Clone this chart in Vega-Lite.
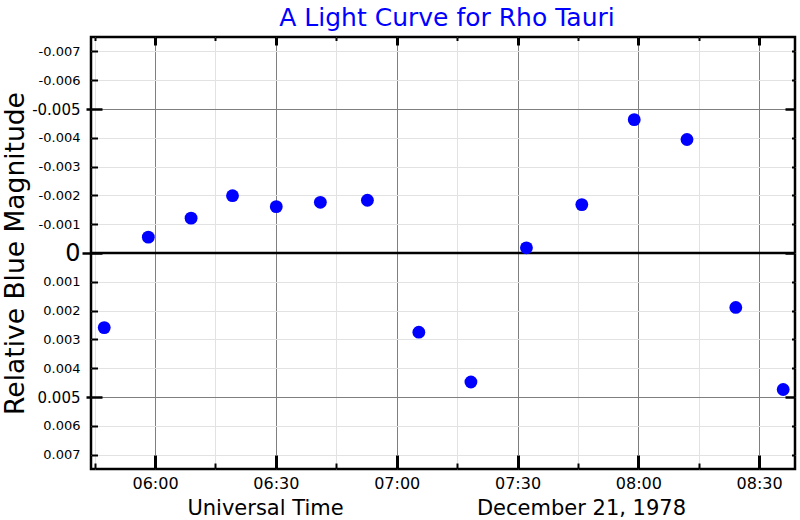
{
  "$schema": "https://vega.github.io/schema/vega-lite/v6.json",
  "width": 704,
  "height": 432,
  "autosize": {"type": "none"},
  "padding": {"left": 91, "top": 37, "right": 5, "bottom": 51},
  "background": "white",
  "config": {
    "font": "DejaVu Sans",
    "view": {"stroke": "black", "strokeWidth": 2.5},
    "axis": {"domain": false, "labelColor": "black", "titleColor": "black", "tickColor": "black", "titleFontWeight": "normal", "labelFont": "DejaVu Sans", "titleFont": "DejaVu Sans"}
  },
  "title": {"text": "A Light Curve for Rho Tauri", "color": "#0000ff", "fontSize": 25, "fontWeight": "normal", "font": "DejaVu Sans", "anchor": "middle", "dx": 4, "offset": -15, "baseline": "alphabetic"},
  "data": {"values": [
    {"time": "1978-12-21T05:47:23Z", "mag": 0.00259},
    {"time": "1978-12-21T05:58:20Z", "mag": -0.00055},
    {"time": "1978-12-21T06:08:57Z", "mag": -0.00121},
    {"time": "1978-12-21T06:19:14Z", "mag": -0.00199},
    {"time": "1978-12-21T06:30:06Z", "mag": -0.00161},
    {"time": "1978-12-21T06:41:03Z", "mag": -0.00176},
    {"time": "1978-12-21T06:52:44Z", "mag": -0.00183},
    {"time": "1978-12-21T07:05:30Z", "mag": 0.00275},
    {"time": "1978-12-21T07:18:26Z", "mag": 0.00448},
    {"time": "1978-12-21T07:32:13Z", "mag": -0.00018},
    {"time": "1978-12-21T07:45:58Z", "mag": -0.00168},
    {"time": "1978-12-21T07:58:59Z", "mag": -0.00463},
    {"time": "1978-12-21T08:12:05Z", "mag": -0.00394},
    {"time": "1978-12-21T08:24:12Z", "mag": 0.00189},
    {"time": "1978-12-21T08:35:58Z", "mag": 0.00474}
  ]},
  "layer": [
    {
      "data": {"values": [{}]},
      "mark": {"type": "rule", "color": "black", "strokeWidth": 2.5},
      "encoding": {"y": {"datum": 0, "type": "quantitative", "axis": null}}
    },
    {
      "mark": {"type": "circle", "color": "#0000ff", "opacity": 1, "size": 165},
      "encoding": {
        "x": {
          "field": "time", "type": "temporal",
          "scale": {"type": "utc", "domain": [
            {"year": 1978, "month": 12, "date": 21, "hours": 5, "minutes": 44, "seconds": 6, "utc": true},
            {"year": 1978, "month": 12, "date": 21, "hours": 8, "minutes": 38, "seconds": 54, "utc": true}
          ]},
          "axis": {
            "orient": "bottom",
            "values": [
              {"year": 1978, "month": 12, "date": 21, "hours": 5, "minutes": 45, "utc": true},
              {"year": 1978, "month": 12, "date": 21, "hours": 6, "minutes": 0, "utc": true},
              {"year": 1978, "month": 12, "date": 21, "hours": 6, "minutes": 15, "utc": true},
              {"year": 1978, "month": 12, "date": 21, "hours": 6, "minutes": 30, "utc": true},
              {"year": 1978, "month": 12, "date": 21, "hours": 6, "minutes": 45, "utc": true},
              {"year": 1978, "month": 12, "date": 21, "hours": 7, "minutes": 0, "utc": true},
              {"year": 1978, "month": 12, "date": 21, "hours": 7, "minutes": 15, "utc": true},
              {"year": 1978, "month": 12, "date": 21, "hours": 7, "minutes": 30, "utc": true},
              {"year": 1978, "month": 12, "date": 21, "hours": 7, "minutes": 45, "utc": true},
              {"year": 1978, "month": 12, "date": 21, "hours": 8, "minutes": 0, "utc": true},
              {"year": 1978, "month": 12, "date": 21, "hours": 8, "minutes": 15, "utc": true},
              {"year": 1978, "month": 12, "date": 21, "hours": 8, "minutes": 30, "utc": true}
            ],
            "ticks": false,
            "labelExpr": "utcminutes(datum.value) % 30 == 0 ? utcFormat(datum.value, '%H:%M') : ''",
            "labelFontSize": 16,
            "labelPadding": 6,
            "labelFlush": false,
            "labelOverlap": false,
            "grid": true,
            "gridColor": {"condition": {"test": "utcminutes(datum.value) % 30 == 0", "value": "#7f7f7f"}, "value": "#e2e2e2"},
            "gridWidth": 1,
            "title": "Universal Time",
            "titleFontSize": 21,
            "titleX": 174,
            "titleY": 45,
            "titleAlign": "center",
            "titleBaseline": "alphabetic"
          }
        },
        "y": {
          "field": "mag", "type": "quantitative",
          "scale": {"domain": [-0.0075, 0.0075], "reverse": true, "nice": false, "zero": false},
          "axis": {
            "orient": "left",
            "values": [-0.007, -0.006, -0.005, -0.004, -0.003, -0.002, -0.001, 0, 0.001, 0.002, 0.003, 0.004, 0.005, 0.006, 0.007],
            "ticks": false,
            "labelExpr": "datum.value == 0 ? '0' : '' + datum.value",
            "labelFontSize": {"condition": [
              {"test": "datum.value == 0", "value": 24},
              {"test": "abs(abs(datum.value) - 0.005) < 0.0001", "value": 15}
            ], "value": 13},
            "labelPadding": 11,
            "labelFlush": false,
            "labelOverlap": false,
            "grid": true,
            "gridColor": {"condition": {"test": "abs(abs(datum.value) - 0.005) < 0.0001", "value": "#7f7f7f"}, "value": "#e2e2e2"},
            "gridWidth": 1,
            "title": "Relative Blue Magnitude",
            "titleFontSize": 26.5,
            "titleAngle": 270,
            "titleX": -68,
            "titleY": 216,
            "titleAlign": "center",
            "titleBaseline": "alphabetic"
          }
        }
      }
    },
    {
      "mark": {"type": "point", "opacity": 0},
      "encoding": {
        "x": {
          "field": "time", "type": "temporal",
          "axis": {
            "orient": "bottom",
            "values": [
              {"year": 1978, "month": 12, "date": 21, "hours": 5, "minutes": 45, "utc": true},
              {"year": 1978, "month": 12, "date": 21, "hours": 6, "minutes": 0, "utc": true},
              {"year": 1978, "month": 12, "date": 21, "hours": 6, "minutes": 15, "utc": true},
              {"year": 1978, "month": 12, "date": 21, "hours": 6, "minutes": 30, "utc": true},
              {"year": 1978, "month": 12, "date": 21, "hours": 6, "minutes": 45, "utc": true},
              {"year": 1978, "month": 12, "date": 21, "hours": 7, "minutes": 0, "utc": true},
              {"year": 1978, "month": 12, "date": 21, "hours": 7, "minutes": 15, "utc": true},
              {"year": 1978, "month": 12, "date": 21, "hours": 7, "minutes": 30, "utc": true},
              {"year": 1978, "month": 12, "date": 21, "hours": 7, "minutes": 45, "utc": true},
              {"year": 1978, "month": 12, "date": 21, "hours": 8, "minutes": 0, "utc": true},
              {"year": 1978, "month": 12, "date": 21, "hours": 8, "minutes": 15, "utc": true},
              {"year": 1978, "month": 12, "date": 21, "hours": 8, "minutes": 30, "utc": true}
            ],
            "labels": false, "grid": false, "title": null, "ticks": true,
            "tickSize": {"condition": {"test": "utcminutes(datum.value) % 30 == 0", "value": -14}, "value": -6},
            "tickWidth": {"condition": {"test": "utcminutes(datum.value) % 30 == 0", "value": 3}, "value": 2}
          }
        },
        "y": {
          "field": "mag", "type": "quantitative",
          "axis": {
            "orient": "left",
            "values": [-0.007, -0.006, -0.005, -0.004, -0.003, -0.002, -0.001, 0, 0.001, 0.002, 0.003, 0.004, 0.005, 0.006, 0.007],
            "labels": false, "grid": false, "title": null, "ticks": true,
            "tickSize": {"condition": {"test": "abs(abs(datum.value) - 0.005) < 0.0001 || datum.value == 0", "value": -11}, "value": -6.5},
            "tickWidth": {"condition": {"test": "abs(abs(datum.value) - 0.005) < 0.0001 || datum.value == 0", "value": 2.5}, "value": 2}
          }
        }
      }
    },
    {
      "mark": {"type": "point", "opacity": 0},
      "encoding": {
        "x": {
          "field": "time", "type": "temporal",
          "axis": {
            "orient": "top",
            "values": [
              {"year": 1978, "month": 12, "date": 21, "hours": 5, "minutes": 45, "utc": true},
              {"year": 1978, "month": 12, "date": 21, "hours": 6, "minutes": 0, "utc": true},
              {"year": 1978, "month": 12, "date": 21, "hours": 6, "minutes": 15, "utc": true},
              {"year": 1978, "month": 12, "date": 21, "hours": 6, "minutes": 30, "utc": true},
              {"year": 1978, "month": 12, "date": 21, "hours": 6, "minutes": 45, "utc": true},
              {"year": 1978, "month": 12, "date": 21, "hours": 7, "minutes": 0, "utc": true},
              {"year": 1978, "month": 12, "date": 21, "hours": 7, "minutes": 15, "utc": true},
              {"year": 1978, "month": 12, "date": 21, "hours": 7, "minutes": 30, "utc": true},
              {"year": 1978, "month": 12, "date": 21, "hours": 7, "minutes": 45, "utc": true},
              {"year": 1978, "month": 12, "date": 21, "hours": 8, "minutes": 0, "utc": true},
              {"year": 1978, "month": 12, "date": 21, "hours": 8, "minutes": 15, "utc": true},
              {"year": 1978, "month": 12, "date": 21, "hours": 8, "minutes": 30, "utc": true}
            ],
            "labels": false, "grid": false, "title": null, "ticks": true,
            "tickSize": {"condition": {"test": "utcminutes(datum.value) % 30 == 0", "value": -8}, "value": -3.5},
            "tickWidth": {"condition": {"test": "utcminutes(datum.value) % 30 == 0", "value": 3}, "value": 2}
          }
        },
        "y": {
          "field": "mag", "type": "quantitative",
          "axis": {
            "orient": "right",
            "values": [-0.007, -0.006, -0.005, -0.004, -0.003, -0.002, -0.001, 0, 0.001, 0.002, 0.003, 0.004, 0.005, 0.006, 0.007],
            "labels": false, "grid": false, "title": null, "ticks": true,
            "tickSize": {"condition": {"test": "abs(abs(datum.value) - 0.005) < 0.0001 || datum.value == 0", "value": -10}, "value": -3.5},
            "tickWidth": {"condition": {"test": "abs(abs(datum.value) - 0.005) < 0.0001 || datum.value == 0", "value": 2.5}, "value": 2}
          }
        }
      }
    },
    {
      "mark": {"type": "point", "opacity": 0},
      "encoding": {
        "x": {
          "field": "time", "type": "temporal",
          "axis": {
            "orient": "bottom",
            "labels": false, "grid": false, "ticks": false,
            "title": "December 21, 1978",
            "titleFontSize": 21,
            "titleX": 490,
            "titleY": 45,
            "titleAlign": "center",
            "titleBaseline": "alphabetic"
          }
        },
        "y": {
          "field": "mag", "type": "quantitative",
          "axis": {
            "orient": "left",
            "values": [-0.005, 0, 0.005],
            "labels": false, "grid": false, "title": null, "ticks": true,
            "tickSize": {"condition": {"test": "datum.value == 0", "value": 9}, "value": 5},
            "tickWidth": 2.5
          }
        }
      }
    }
  ],
  "resolve": {"axis": {"x": "independent", "y": "independent"}}
}
